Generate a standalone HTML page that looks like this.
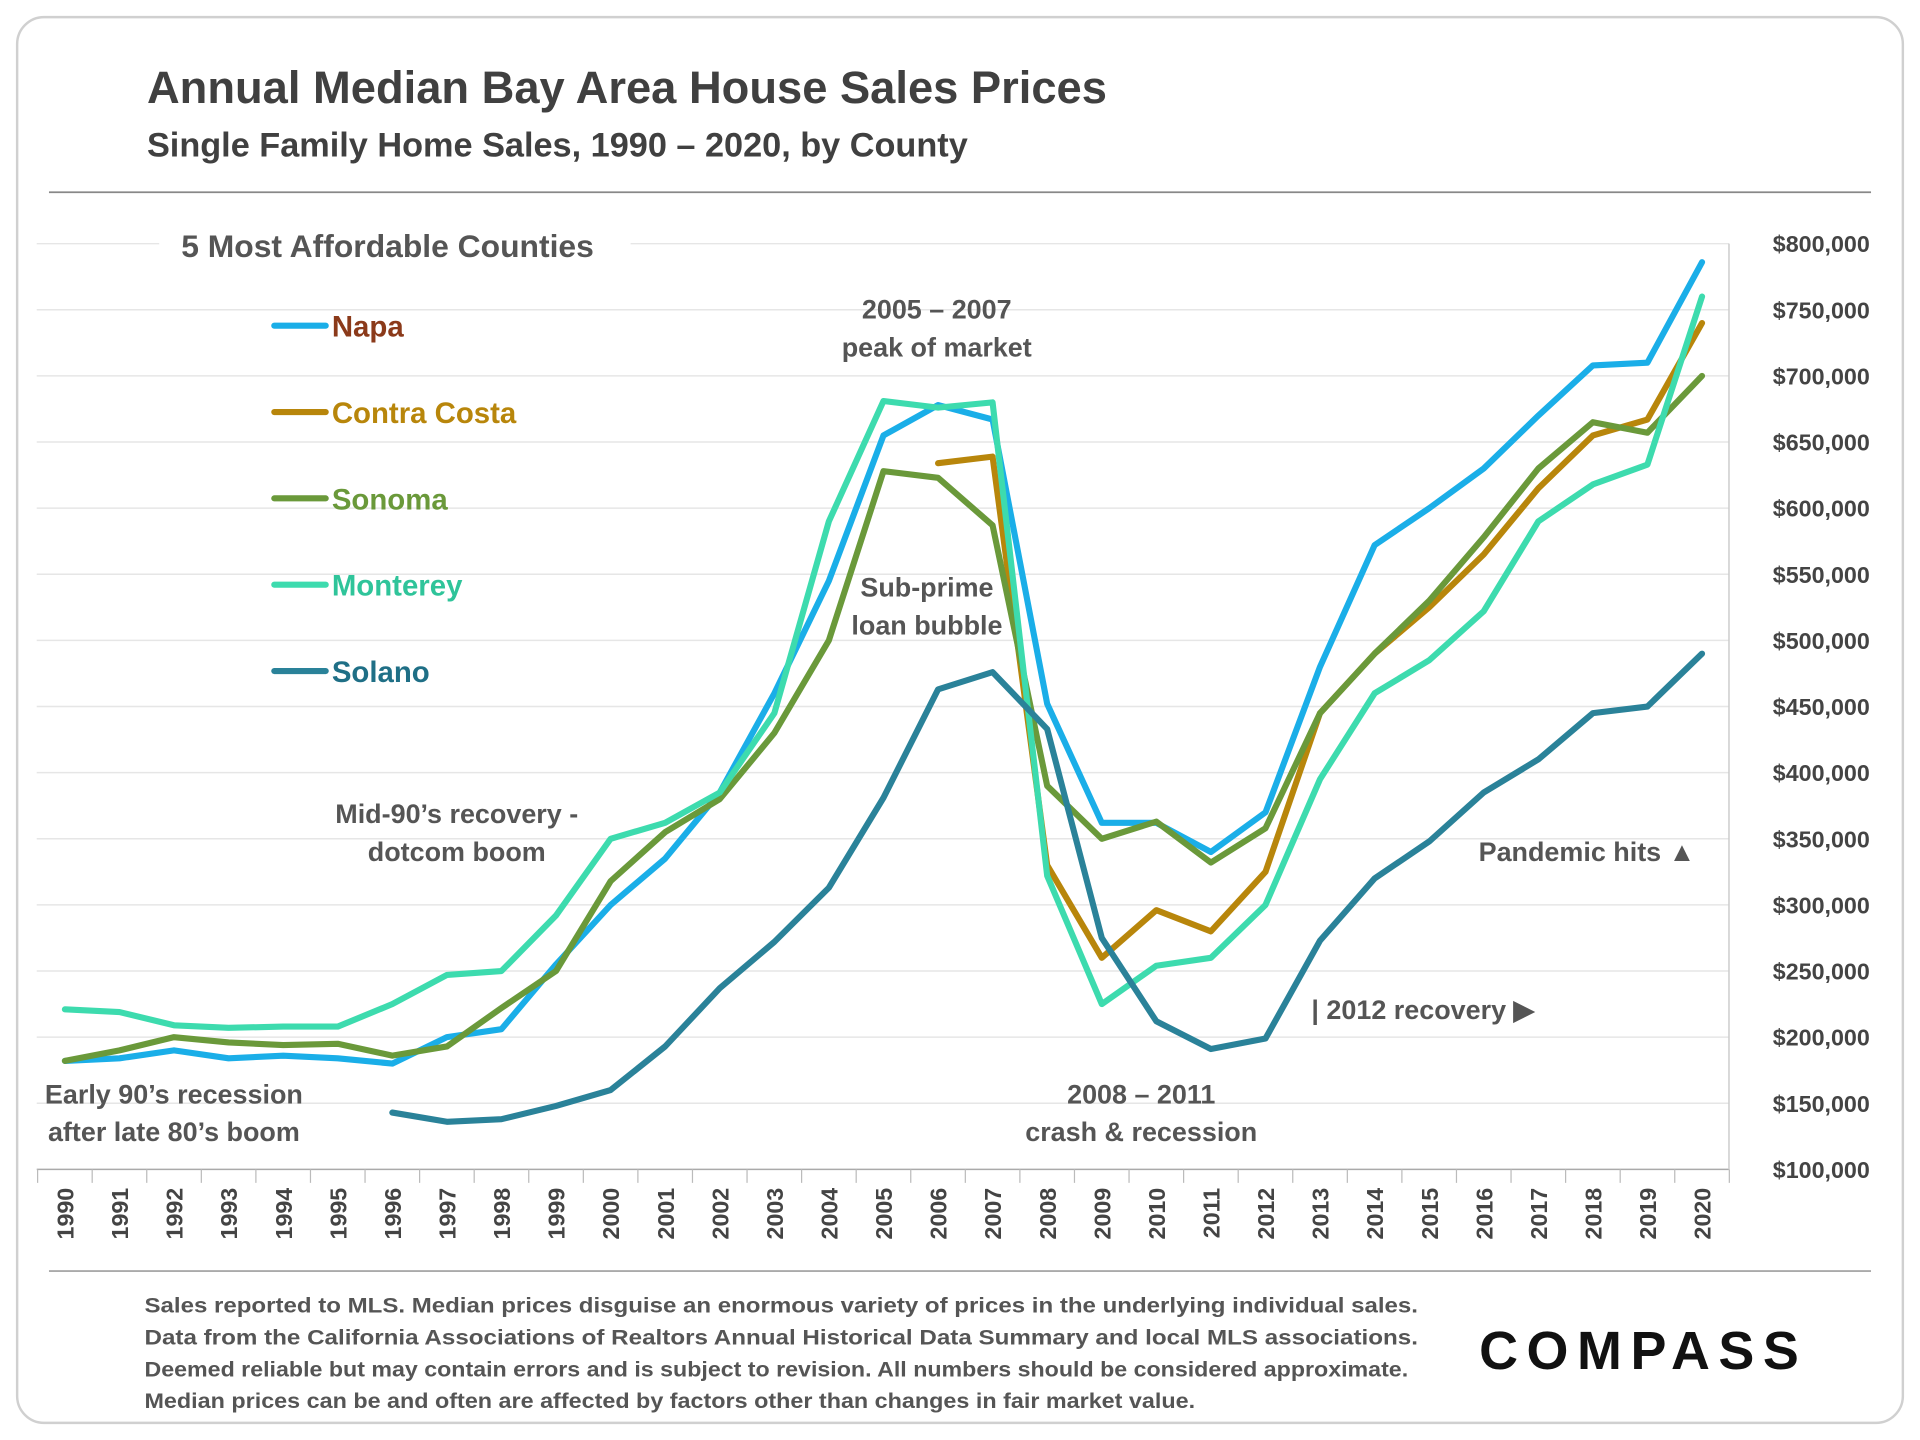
<!DOCTYPE html>
<html><head><meta charset="utf-8"><style>
html,body{margin:0;padding:0;background:#fff;}
svg{display:block;font-family:"Liberation Sans",sans-serif;}
</style></head><body>
<svg id="chart" width="1920" height="1440" viewBox="0 0 1568 1176" xmlns="http://www.w3.org/2000/svg">
<rect x="14" y="14" width="1540" height="1148" rx="22" fill="#fff" stroke="#d0d0d0" stroke-width="2"/>
<text x="120" y="84" font-size="37" font-weight="bold" fill="#404040">Annual Median Bay Area House Sales Prices</text>
<text x="120" y="128" font-size="28" font-weight="bold" fill="#404040">Single Family Home Sales, 1990 – 2020, by County</text>
<line x1="40" y1="157" x2="1528" y2="157" stroke="#888" stroke-width="1.5"/>
<line x1="40" y1="1038" x2="1528" y2="1038" stroke="#aaa" stroke-width="1.5"/>
<g id="grid"></g><g id="axes"></g><g id="series"></g>
<rect x="130" y="178" width="385" height="44" fill="#fff"/>
<text x="148" y="210" font-size="26" font-weight="bold" fill="#555">5 Most Affordable Counties</text>
<g id="legend"></g>
<g font-size="22" font-weight="bold" fill="#555" text-anchor="middle">
<text x="765" y="260">2005 – 2007</text>
<text x="765" y="291">peak of market</text>
<text x="757" y="487">Sub-prime</text>
<text x="757" y="518">loan bubble</text>
<text x="373" y="672">Mid-90’s recovery -</text>
<text x="373" y="703">dotcom boom</text>
<text x="142" y="901">Early 90’s recession</text>
<text x="142" y="932">after late 80’s boom</text>
<text x="932" y="901">2008 – 2011</text>
<text x="932" y="932">crash &amp; recession</text>
<text x="1162" y="832">| 2012 recovery ▶</text>
<text x="1296" y="703">Pandemic hits ▲</text>
</g>
<g font-size="17" font-weight="bold" fill="#555">
<text x="118" y="1072" textLength="1040" lengthAdjust="spacingAndGlyphs">Sales reported to MLS. Median prices disguise an enormous variety of prices in the underlying individual sales.</text>
<text x="118" y="1098" textLength="1040" lengthAdjust="spacingAndGlyphs">Data from the California Associations of Realtors Annual Historical Data Summary and local MLS associations.</text>
<text x="118" y="1124" textLength="1032" lengthAdjust="spacingAndGlyphs">Deemed reliable but may contain errors and is subject to revision. All numbers should be considered approximate.</text>
<text x="118" y="1150" textLength="858" lengthAdjust="spacingAndGlyphs">Median prices can be and often are affected by factors other than changes in fair market value.</text>
</g>
<text x="1342" y="1118" font-size="44" font-weight="bold" fill="#111" text-anchor="middle" letter-spacing="7">COMPASS</text>
</svg>
<script>
const years=[1990,1991,1992,1993,1994,1995,1996,1997,1998,1999,2000,2001,2002,2003,2004,2005,2006,2007,2008,2009,2010,2011,2012,2013,2014,2015,2016,2017,2018,2019,2020];
const yTicks=[100,150,200,250,300,350,400,450,500,550,600,650,700,750,800];
const napa=[182,184,190,184,186,184,180,200,206,255,300,335,385,460,545,655,678,667,452,362,362,340,370,480,572,600,630,670,708,710,786];
const contraCosta=[null,null,null,null,null,null,null,null,null,null,null,null,null,null,null,null,634,639,330,260,296,280,325,445,490,525,565,615,655,667,740];
const sonoma=[182,190,200,196,194,195,186,193,222,250,318,355,380,430,500,628,623,587,390,350,363,332,358,445,490,530,578,630,665,657,700];
const monterey=[221,219,209,207,208,208,225,247,250,292,350,362,385,445,590,681,676,680,322,225,254,260,300,395,460,485,522,590,618,633,760];
const solano=[null,null,null,null,null,null,143,136,138,148,160,193,237,272,313,381,463,476,433,275,212,191,199,273,320,348,385,410,445,450,490];
const seriesNames=["Napa","Contra Costa","Sonoma","Monterey","Solano"];
const seriesColors=["#1aaee8","#b8860b","#6a993a","#3ddbae","#2a8299"];
const legendText=["#8b3a1a","#b8860b","#6a993a","#2fc49a","#1f6f86"];
const NS="http://www.w3.org/2000/svg";
const x=i=>53+i*(1390-53)/30;
const y=v=>955-(v-100)*(955-199)/700;
function mk(t,a,p){const e=document.createElementNS(NS,t);for(const k in a)e.setAttribute(k,a[k]);p.appendChild(e);return e;}
const grid=document.getElementById('grid'),axes=document.getElementById('axes'),ser=document.getElementById('series'),leg=document.getElementById('legend');
yTicks.forEach(v=>{
 const l=mk('line',{x1:30,x2:1412,y1:y(v),y2:y(v),stroke:v===100?'#aaa':'#e6e6e6','stroke-width':1.2},grid);
 
 
 const t=mk('text',{x:1527,y:y(v)+7,'font-size':19,'font-weight':'bold',fill:'#444','text-anchor':'end'},axes);
 t.textContent='$'+(v*1000).toLocaleString('en-US');
 
 
});
mk('line',{x1:1412,x2:1412,y1:199,y2:955,stroke:'#ccc','stroke-width':1.2},axes);
const step=(1390-53)/30;
for(let i=0;i<=31;i++){mk('line',{x1:x(i)-step/2,x2:x(i)-step/2,y1:955,y2:966,stroke:'#bbb','stroke-width':1},axes);}
years.forEach((yr,i)=>{
 const t=mk('text',{x:0,y:0,'font-size':19,'font-weight':'bold',fill:'#444','text-anchor':'end',transform:`translate(${x(i)+7},970) rotate(-90)`},axes);
 t.textContent=yr;
 
 
});
[napa,contraCosta,sonoma,monterey,solano].forEach((d,s)=>{
 let p='';d.forEach((v,i)=>{if(v==null)return;p+=(p?'L':'M')+x(i).toFixed(1)+','+y(v).toFixed(1);});
 const e=mk('path',{d:p,fill:'none',stroke:seriesColors[s],'stroke-width':5,'stroke-linejoin':'round','stroke-linecap':'round'},ser);
 
 
 const ly=266+s*70.5;
 const ll=mk('line',{x1:224,x2:266,y1:ly,y2:ly,stroke:seriesColors[s],'stroke-width':5,'stroke-linecap':'round'},leg);
 
 
 const lt=mk('text',{x:271,y:ly+9,'font-size':24,'font-weight':'bold',fill:legendText[s]},leg);
 lt.textContent=seriesNames[s];
 
 
});
</script>
</body></html>
